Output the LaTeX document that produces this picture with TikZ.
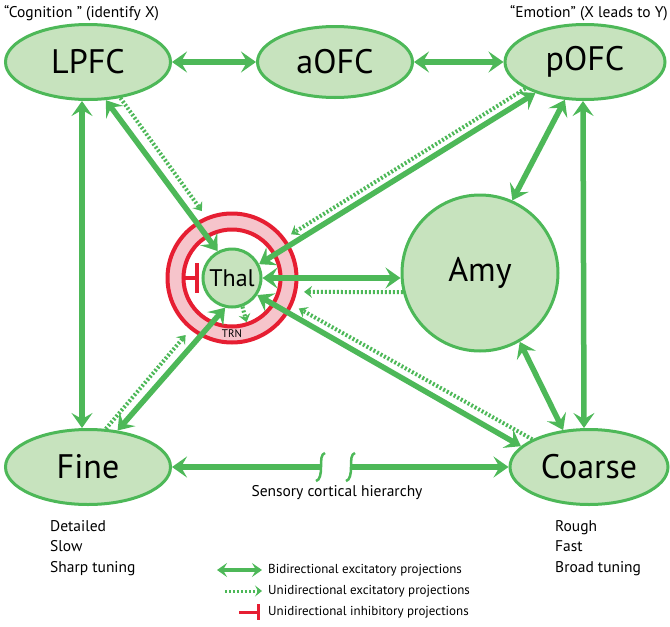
\documentclass[tikz,border=0pt]{standalone}
\usepackage{fontspec}
\setmainfont{PT Sans}
\usetikzlibrary{shapes.geometric,arrows.meta}
\definecolor{projgreen}{HTML}{4DB858}
\definecolor{areagreen}{HTML}{C7E3BE}
\definecolor{trnred}{HTML}{E61E32}
\definecolor{trnpink}{HTML}{F6C4CB}
\tikzset{
	bighead/.tip    = {Stealth[length=15pt,width=21pt,inset=6pt]},
	smallhead/.tip  = {Stealth[length=8pt,width=12pt,inset=3pt]},
	area/.style     = {draw=projgreen, fill=areagreen, line width=3pt, ellipse,
		minimum width=165pt, minimum height=75pt, font=\fontsize{34}{34}\selectfont},
	nucleus/.style  = {draw=projgreen, fill=areagreen, line width=3pt, circle, inner sep=0pt},
	ring/.style     = {draw=trnred, line width=4pt, circle},
	bidir/.style    = {draw=projgreen, line width=5.5pt, bighead-bighead},
	unidir/.style   = {draw=projgreen, line width=4pt, dash pattern=on 2pt off 2pt,
		-smallhead, shorten >=7pt},
	inhib/.style    = {draw=trnred, line width=4pt, -{Bar[width=30pt]}},
	heading/.style  = {font=\fontsize{15.5}{18}\selectfont, inner sep=0pt},
	notes/.style    = {font=\fontsize{15.5}{20.5}\selectfont, align=left, inner sep=0pt, anchor=north west},
	legend/.style   = {font=\fontsize{13}{15}\selectfont, anchor=west, inner sep=0pt}
}

\begin{document}
\begin{tikzpicture}[x=1pt, y=-1pt]
	\useasboundingbox (0,0) rectangle (670,627);
	\draw
	node at (88,62)[area] (lpfc) {LPFC}
	node at (335,62)[area, minimum width=155pt, minimum height=71pt] (aofc) {aOFC}
	node at (585,62)[area, minimum width=160pt] (pofc) {pOFC}
	node at (88,467)[area] (fine) {Fine}
	node at (589,467)[area, minimum width=158pt] (coarse) {Coarse}
	node at (480,273)[nucleus, minimum size=156pt, font=\fontsize{34}{34}\selectfont] (amy) {Amy};
	
	\draw
	node at (232,278)[ring, fill=trnpink, minimum size=129pt] (trn) {}
	node at (232,278)[ring, fill=white, minimum size=97pt] (trnin) {}
	node at (232,278)[nucleus, minimum size=58pt, font=\fontsize{24}{24}\selectfont] (thal) {Thal}
	node at (232,334)[font=\fontsize{11}{11}\selectfont, inner sep=0pt] (trnname) {TRN};
	
	\draw
	node at (4,13)[heading, anchor=west] (cognition) {“Cognition ” (identify X)}
	node at (668,13)[heading, anchor=east] (emotion) {“Emotion” (X leads to Y)}
	node at (337,493)[heading] (hierarchy) {Sensory cortical hierarchy}
	node at (50,520)[notes] (finenotes) {Detailed\\Slow\\Sharp tuning}
	node at (555,520)[notes] (coarsenotes) {Rough\\Fast\\Broad tuning};
	
	% cortex
	\draw[bidir] (lpfc.east) -- (aofc.west);
	\draw[bidir] (aofc.east) -- (pofc.west);
	\draw[bidir] ([xshift=-6pt]lpfc.south) -- ([xshift=-6pt]fine.north);
	\draw[bidir] ([xshift=-2pt]pofc.south) -- ([xshift=-5pt]coarse.north);
	\draw[bidir] (pofc.-118) -- (amy.66);
	\draw[bidir] (amy.-60) -- (coarse.125);
	
	% sensory hierarchy with break
	\coordinate (brkl) at (320,467);
	\coordinate (brkr) at (352,467);
	\draw[bidir, bighead-] (fine.east) -- (brkl);
	\draw[bidir, -bighead] (brkr) -- (coarse.west);
	\draw[projgreen, line width=2.5pt] (325,453) .. controls (321,454) and (321,460) .. (321,467)
		.. controls (321,474) and (320,480) .. (316,481);
	\draw[projgreen, line width=2.5pt] (355,453) .. controls (351,454) and (351,460) .. (351,467)
		.. controls (351,474) and (350,480) .. (346,481);
	
	% thalamus
	\draw[bidir] (lpfc.-65) -- (thal.118);
	\draw[bidir] (pofc.-148) -- (thal.27);
	\draw[bidir] (amy.west |- thal.east) -- (thal.east);
	\draw[bidir] (coarse.163) -- (thal.-34);
	\draw[bidir] (fine.51) -- (thal.-103);
	
	% TRN
	\draw[unidir] (lpfc.-48) -- (trn.113);
	\draw[unidir] (pofc.204) -- (trn.37);
	\draw[unidir] (amy.194) -- (trn.-12);
	\draw[unidir] (coarse.154) -- (trn.-24);
	\draw[unidir] (fine.65) -- (trn.-129);
	\draw[unidir, shorten >=4pt] (thal.-70) -- (trnin.-72);
	\draw[inhib, shorten >=3pt] (trnin.west) -- (thal.west);
	
	% legend
	\coordinate (bia) at (217,570);
	\coordinate (bib) at (262,570);
	\coordinate (unia) at (225,591);
	\coordinate (unib) at (262,591);
	\coordinate (inha) at (239,612);
	\coordinate (inhb) at (260,612);
	\draw[draw=projgreen, line width=3.5pt, {Stealth[length=10pt,width=14pt,inset=4pt]}-{Stealth[length=10pt,width=14pt,inset=4pt]}] (bia) -- (bib);
	\draw[unidir, line width=3pt, shorten >=0pt, -{Stealth[length=7pt,width=11pt,inset=3pt]}] (unia) -- (unib);
	\draw[inhib, line width=3pt, -{Bar[width=16pt]}] (inha) -- (inhb);
	\draw
	node at (268,570)[legend] (legbi) {Bidirectional excitatory projections}
	node at (268,591)[legend] (leguni) {Unidirectional excitatory projections}
	node at (268,612)[legend] (leginh) {Unidirectional inhibitory projections};
\end{tikzpicture}
\end{document}
